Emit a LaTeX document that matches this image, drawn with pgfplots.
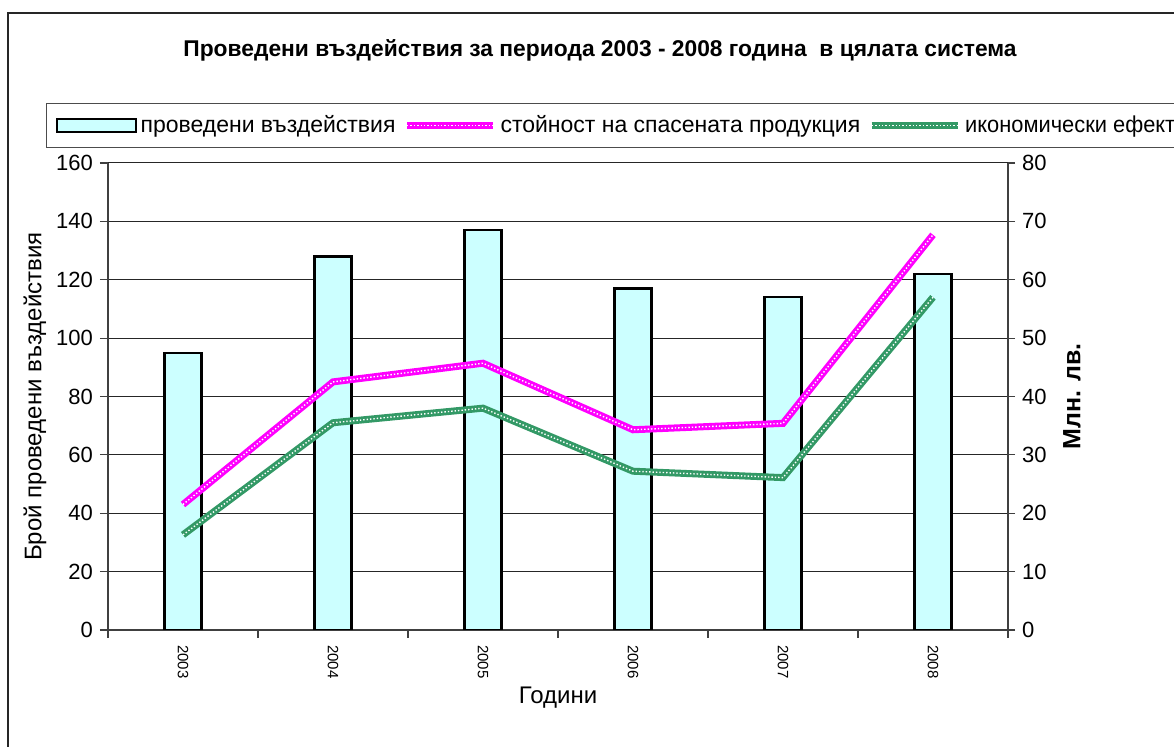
\documentclass[border=0pt]{standalone}
\usepackage{pgfplots}
\pgfplotsset{compat=1.18}
\usepackage{fontspec}
\setmainfont{Liberation Sans}
\definecolor{barfill}{RGB}{204,255,255}
\definecolor{pinkline}{RGB}{255,0,255}
\definecolor{greenline}{RGB}{51,153,102}
\newcommand{\fs}{\fontsize{11}{13}\selectfont}
\newcommand{\fl}{\fontsize{11.5}{13.5}\selectfont}
\newcommand{\fa}{\fontsize{12}{14}\selectfont}
\pgfplotsset{
  barleg/.style={legend image code/.code={\draw[##1] (0pt,-3.25pt) rectangle (39.5pt,3.25pt);}},
  lineleg/.style={legend image code/.code={\draw[##1] (0pt,0pt) -- (43pt,0pt); \draw[white, line width=0.7pt, dash pattern=on 0.7pt off 1pt] (0pt,0pt) -- (43pt,0pt);}},
}
\begin{document}
\begin{tikzpicture}[x=1pt,y=1pt]
\useasboundingbox (-54,-58.5) rectangle (533,315);
\draw[line width=0.6pt, black!85] (-50,-80) rectangle (560,308.5);
\node[font=\bfseries\fontsize{11.4}{13.5}\selectfont] at (246,290) {Проведени въздействия за периода 2003 - 2008 година \ в цялата система};
\begin{axis}[
  at={(0pt,0pt)}, anchor=south west,
  scale only axis, width=450pt, height=233.5pt,
  xmin=-0.5, xmax=5.5, ymin=0, ymax=160,
  ytick={0,20,...,160},
  axis y line*=left, axis x line*=bottom,
  ymajorgrids, grid style={black!85, line width=0.5pt},
  xtick={0,...,5}, xticklabels={2003,2004,2005,2006,2007,2008},
  x tick label style={rotate=-90, anchor=west, font=\fontsize{7.5}{9}\selectfont},
  y tick label style={font=\fs},
  /pgf/number format/assume math mode=true,
  major x tick style={draw=none},
  minor xtick={-0.5,0.5,...,5.5},
  tick align=outside,
  major tick length=4pt, minor tick length=4pt,
  axis line style={black!75, line width=0.75pt},
  tick style={black!75, line width=0.6pt},
  xlabel={Години}, ylabel={Брой проведени въздействия},
  every axis x label/.style={at={(axis description cs:0.5,-0.1456)}, anchor=center, font=\fa},
  every axis y label/.style={at={(axis description cs:-0.0811,0.5)}, rotate=90, anchor=center, font=\fa},
  ybar, bar width=18.5pt,
]
\addplot[draw=black, line width=1.15pt, fill=barfill] coordinates {(0,95) (1,128) (2,137) (3,117) (4,114) (5,122)};
\end{axis}
\begin{axis}[
  at={(0pt,0pt)}, anchor=south west,
  scale only axis, width=450pt, height=233.5pt,
  xmin=-0.5, xmax=5.5, ymin=0, ymax=80,
  ytick={0,10,...,80},
  axis y line*=right, axis x line=none,
  y tick label style={font=\fs},
  /pgf/number format/assume math mode=true,
  tick align=outside, major tick length=3.5pt,
  axis line style={black!75, line width=0.75pt},
  tick style={black!75, line width=0.6pt},
  ylabel={Млн. лв.},
  every axis y label/.style={at={(axis description cs:1.0711,0.5)}, rotate=90, anchor=center, font=\bfseries\fontsize{12.5}{14}\selectfont},
  legend columns=3,
  legend style={at={(axis description cs:-0.0689,1.1285)}, anchor=north west,
    draw=black!70, line width=0.6pt, fill=white, font=\fl,
    inner xsep=4.5pt, inner ysep=4pt,
    /tikz/every odd column/.append style={column sep=0pt},
    /tikz/every even column/.append style={column sep=2pt}},
]
\addlegendimage{draw=black, line width=1pt, fill=barfill, barleg}
\addlegendentry{проведени въздействия}
\addplot[pinkline, line width=3.5pt, lineleg]
  coordinates {(0,21.5) (1,42.5) (2,45.7) (3,34.3) (4,35.4) (5,67.7)};
\addlegendentry{стойност на спасената продукция}
\addplot[white, line width=0.7pt, dash pattern=on 0.7pt off 1pt, forget plot]
  coordinates {(0,21.5) (1,42.5) (2,45.7) (3,34.3) (4,35.4) (5,67.7)};
\addplot[greenline, line width=3.5pt, lineleg]
  coordinates {(0,16.3) (1,35.5) (2,38.0) (3,27.2) (4,26.1) (5,57.0)};
\addlegendentry{\scalebox{0.95}[1]{икономически ефект}}
\addplot[white, line width=0.7pt, dash pattern=on 0.7pt off 1pt, forget plot]
  coordinates {(0,16.3) (1,35.5) (2,38.0) (3,27.2) (4,26.1) (5,57.0)};
\end{axis}
\end{tikzpicture}
\end{document}
